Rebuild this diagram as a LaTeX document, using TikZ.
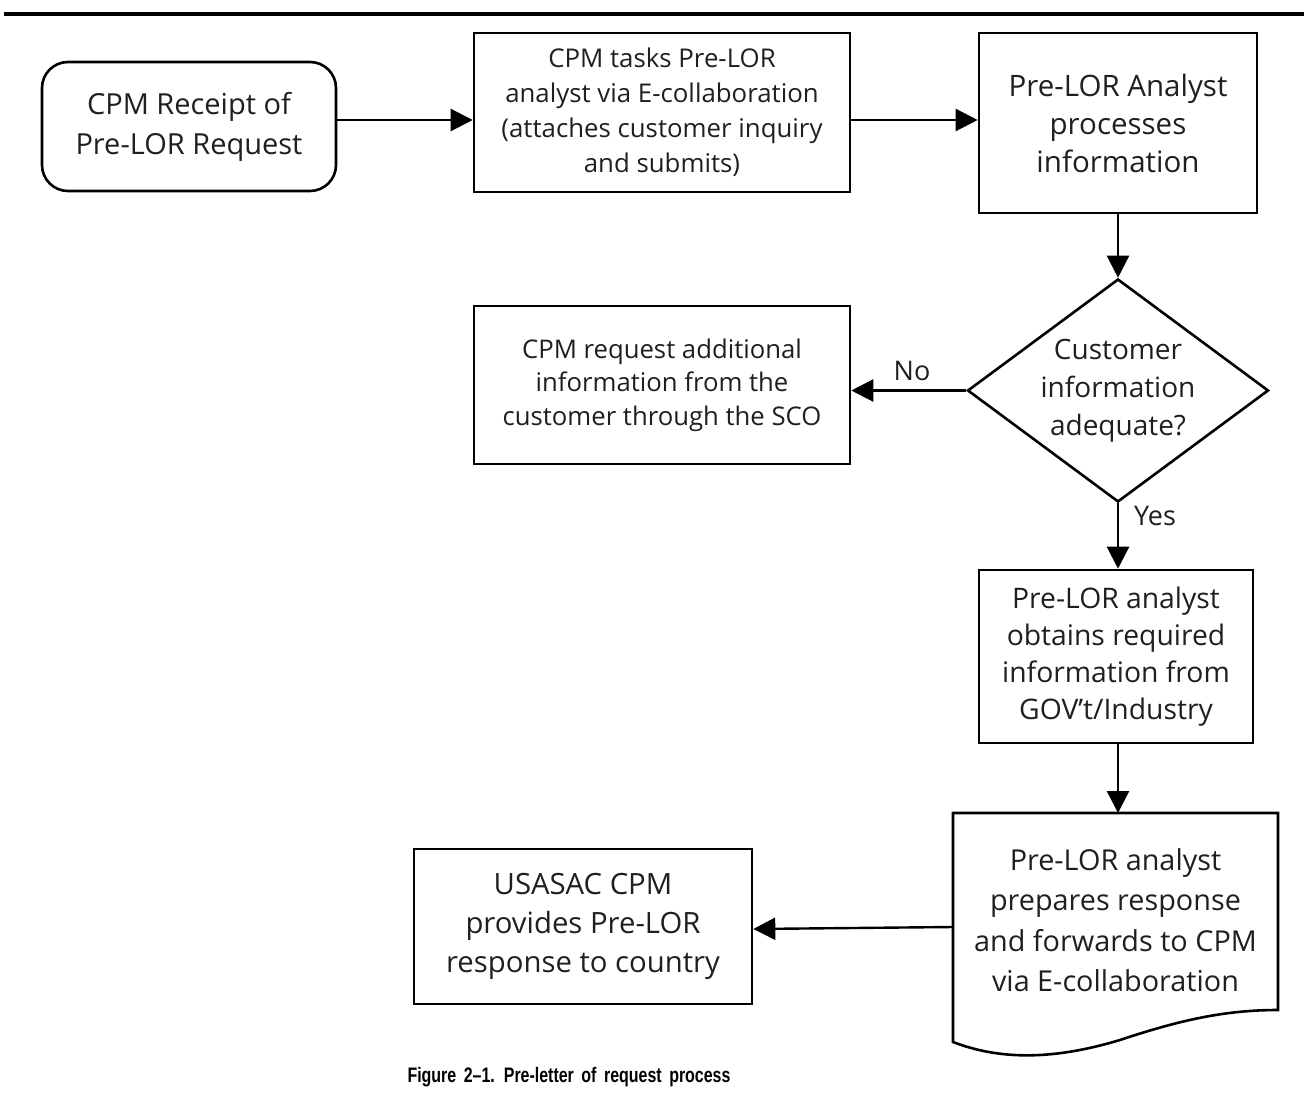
\documentclass[tikz,border=0pt]{standalone}
\usepackage{fontspec}
\setmainfont{Open Sans}
\newfontfamily\capfont[FakeStretch=0.76,WordSpace=1.7]{Liberation Sans}
\usetikzlibrary{arrows.meta,shapes.geometric}
\tikzset{
  box/.style={draw, line width=2.6pt, align=center, inner sep=0pt, text=black!88},
  conn/.style={line width=2.4pt, -{Triangle[length=22pt,width=22pt]}},
  lbl/.style={font=\fontsize{27}{30}\selectfont, text=black!88},
}
\begin{document}
\begin{tikzpicture}[x=1pt,y=-1pt]
\useasboundingbox (0,0) rectangle (1304,1097);
\draw[line width=4pt] (4,14) -- (1304,14);
% start
\node[box, rounded corners=26pt, minimum width=294pt, minimum height=129pt,
  font=\fontsize{29}{40}\selectfont] (start) at (189,126.5) {CPM Receipt of\\Pre-LOR Request};
% box2
\node[box, minimum width=376pt, minimum height=159pt,
  font=\fontsize{25.8}{35}\selectfont] (task) at (662,112.5) {CPM tasks Pre-LOR\\analyst via E-collaboration\\(attaches customer inquiry\\and submits)};
% box3
\node[box, minimum width=278pt, minimum height=180pt,
  font=\fontsize{29.5}{38}\selectfont] (proc) at (1118,123) {Pre-LOR Analyst\\processes\\information};
% decision
\node[draw, line width=2.6pt, diamond, aspect=1.35, inner sep=0pt,
  minimum width=301pt, minimum height=223pt, align=center, text=black!88,
  font=\fontsize{28}{38}\selectfont] (dec) at (1118,390.5) {Customer\\information\\adequate?};
% box4
\node[box, minimum width=376pt, minimum height=158pt,
  font=\fontsize{25.7}{33.5}\selectfont] (req) at (662,385) {CPM request additional\\information from the\\customer through the SCO};
% box5
\node[box, minimum width=274pt, minimum height=173pt,
  font=\fontsize{28.3}{37}\selectfont] (obt) at (1116,656.5) {Pre-LOR analyst\\obtains required\\information from\\GOV’t/Industry};
% document
\coordinate (dtl) at (953,813);
\coordinate (dtr) at (1278,813);
\coordinate (dbl) at (953,1042);
\coordinate (dbr) at (1278,1010);
\draw[line width=2.6pt, line join=miter] (dbl) -- (dtl) -- (dtr) -- (dbr)
  .. controls (1225,1010) and (1180,1020) .. (1120,1040)
  .. controls (1060,1058) and (1005,1062) .. (dbl) -- cycle;
\node[align=center, inner sep=0pt, text=black!88, font=\fontsize{28.8}{40.5}\selectfont] (doc) at (1115.5,920)
  {Pre-LOR analyst\\prepares response\\and forwards to CPM\\via E-collaboration};
\coordinate (docin) at (1118,813);
\coordinate (docleft) at (953,927);
% box6
\node[box, minimum width=338pt, minimum height=155pt,
  font=\fontsize{29.3}{39}\selectfont] (prov) at (583,926.5) {USASAC CPM\\provides Pre-LOR\\response to country};
% connectors
\draw[conn] (start.east |- 0,120) -- (task.west |- 0,120);
\draw[conn] (task.east |- 0,120) -- (proc.west |- 0,120);
\draw[conn] (proc.south) -- (dec.north);
\draw[conn] (dec.west) -- (req.east |- dec.west);
\draw[conn] (dec.south) -- (obt.north -| dec.south);
\draw[conn] (obt.south -| dec.south) -- (docin);
\draw[conn] (docleft) -- (prov.east |- 0,929);
\node[lbl] (no) at (912,371) {No};
\node[lbl] (yes) at (1155,516) {Yes};
% caption
\node[font=\capfont\bfseries\fontsize{21}{24}\selectfont] (cap) at (569,1077) {Figure 2–1. Pre-letter of request process};
\end{tikzpicture}
\end{document}
